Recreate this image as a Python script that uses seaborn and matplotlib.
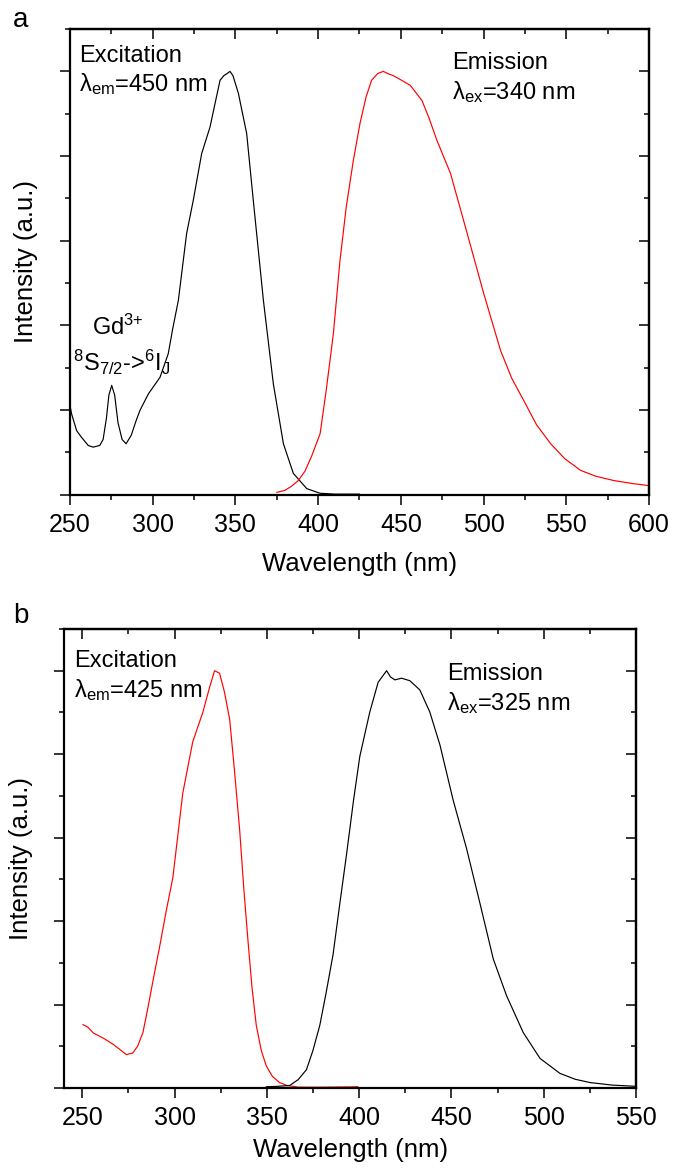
import seaborn as sns
import matplotlib.pyplot as plt
import numpy as np
import pandas as pd
from matplotlib.ticker import MultipleLocator, NullFormatter

# panel a: excitation (black, lambda_em = 450 nm)
a_exc_wl = [250, 251, 254, 257, 261, 264, 268, 270, 272, 273.5, 275.2, 277, 279, 281.5, 283.9,
            287, 290, 292.3, 297.4, 304.4, 309.4, 312, 315.5, 320.5, 324.5, 329.6, 334.6,
            338, 340.7, 343, 345, 346.7, 348.5, 351.8, 356.8, 360.8, 366.9, 372.9, 379,
            385, 393.1, 401.1, 410, 425]
a_exc_int = [0.21, 0.19, 0.151, 0.135, 0.116, 0.112, 0.116, 0.13, 0.18, 0.235, 0.258, 0.235, 0.17,
             0.13, 0.12, 0.14, 0.175, 0.199, 0.238, 0.277, 0.333, 0.39, 0.459, 0.617, 0.695, 0.806,
             0.868, 0.93, 0.979, 0.99, 0.995, 1.0, 0.99, 0.948, 0.853, 0.695, 0.459, 0.262, 0.12,
             0.05, 0.014, 0.003, 0.001, 0.001]

# panel a: emission (red, lambda_ex = 340 nm)
a_emi_wl = [374.9, 380, 384, 388, 392, 396, 401.2, 405, 409.2, 413.2, 417, 421.3, 425.3, 429,
            432.3, 436, 439.4, 442, 445.4, 450, 455.7, 462.8, 467, 471.8, 480, 490.1, 500.1,
            510.3, 517, 524.3, 532, 540.6, 549, 558.7, 568, 578.8, 590, 600]
a_emi_int = [0.005, 0.01, 0.02, 0.033, 0.055, 0.09, 0.144, 0.25, 0.38, 0.553, 0.68, 0.79, 0.877,
             0.94, 0.979, 0.995, 1.0, 0.995, 0.99, 0.98, 0.967, 0.931, 0.89, 0.837, 0.759, 0.617,
             0.475, 0.34, 0.275, 0.222, 0.165, 0.12, 0.085, 0.057, 0.043, 0.033, 0.026, 0.021]

# panel b: excitation (red, lambda_em = 425 nm)
b_exc_wl = [250.3, 253, 256, 259.4, 262, 264.8, 267, 270.2, 273.9, 277.4, 280, 282.9, 285.5,
            288.3, 292, 295.5, 299.1, 304.5, 309.9, 315.4, 319, 321.7, 324.4, 327, 329.9, 332.5,
            335.3, 337.5, 339.8, 342, 344.3, 347, 349.7, 353, 356.9, 361, 367.2, 380, 399.5]
b_exc_int = [0.152, 0.146, 0.132, 0.124, 0.118, 0.11, 0.104, 0.093, 0.08, 0.084, 0.1, 0.133, 0.19,
             0.256, 0.34, 0.424, 0.504, 0.707, 0.83, 0.901, 0.96, 1.0, 0.994, 0.95, 0.883, 0.76,
             0.618, 0.48, 0.353, 0.24, 0.15, 0.09, 0.053, 0.028, 0.013, 0.006, 0.002, 0.002, 0.003]

# panel b: emission (black, lambda_ex = 325 nm)
b_emi_wl = [349.7, 356, 362.4, 367, 371.5, 375, 378.7, 382, 385.9, 389.5, 393.2, 397, 400.4,
            405.8, 410.3, 414.9, 417, 419.4, 423, 427.5, 432.9, 438.3, 443.8, 451, 458.2,
            465.5, 472.7, 479.9, 488.9, 498, 508.8, 517, 525.1, 537, 550]
b_emi_int = [0.003, 0.004, 0.006, 0.02, 0.044, 0.09, 0.15, 0.225, 0.32, 0.44, 0.56, 0.69, 0.795,
             0.901, 0.972, 1.0, 0.985, 0.978, 0.982, 0.976, 0.954, 0.901, 0.822, 0.689, 0.574,
             0.442, 0.309, 0.221, 0.133, 0.071, 0.035, 0.021, 0.013, 0.007, 0.004]

sns.set_style('ticks')
plt.rcParams['font.family'] = ['Liberation Sans', 'DejaVu Sans']
plt.rcParams['mathtext.fontset'] = 'custom'
plt.rcParams['mathtext.rm'] = 'Liberation Sans'
plt.rcParams['mathtext.it'] = 'Liberation Sans'
for key in ['text.color', 'axes.labelcolor', 'xtick.color', 'ytick.color', 'axes.edgecolor']:
    plt.rcParams[key] = 'black'

fig = plt.figure(figsize=(6.81, 11.68), dpi=100)
ax_a = fig.add_axes([0.1028, 0.5766, 0.8502, 0.3985])
ax_b = fig.add_axes([0.0947, 0.0685, 0.8392, 0.393])


def style_axes(ax, xlim, xpad):
    ax.set_xlim(*xlim)
    ax.set_ylim(0, 1.1)
    for s in ax.spines.values():
        s.set_linewidth(1.6)
        s.set_visible(True)
    ax.xaxis.set_major_locator(MultipleLocator(50))
    ax.xaxis.set_minor_locator(MultipleLocator(25))
    ax.yaxis.set_major_locator(MultipleLocator(0.2))
    ax.yaxis.set_minor_locator(MultipleLocator(0.1))
    ax.yaxis.set_major_formatter(NullFormatter())
    ax.tick_params(which='major', direction='out', length=7, width=1.1, labelsize=18, pad=6)
    ax.tick_params(which='minor', direction='out', length=3.5, width=1.1)
    ax.set_xlabel('Wavelength (nm)', fontsize=18.5, labelpad=xpad)
    ax.set_ylabel('Intensity (a.u.)', fontsize=18.5, labelpad=10)
    # mirrored ticks pointing inward on top and right
    top = ax.secondary_xaxis('top')
    top.xaxis.set_major_locator(MultipleLocator(50))
    top.xaxis.set_minor_locator(MultipleLocator(25))
    top.tick_params(which='major', direction='in', length=7, width=1.1, labeltop=False)
    top.tick_params(which='minor', direction='in', length=3.5, width=1.1)
    top.spines['top'].set_linewidth(1.6)
    right = ax.secondary_yaxis('right')
    right.yaxis.set_major_locator(MultipleLocator(0.2))
    right.yaxis.set_minor_locator(MultipleLocator(0.1))
    right.tick_params(which='major', direction='in', length=7, width=1.1, labelright=False)
    right.tick_params(which='minor', direction='in', length=3.5, width=1.1)
    right.spines['right'].set_linewidth(1.6)


# panel a
sns.lineplot(x=a_exc_wl, y=a_exc_int, ax=ax_a, color='black', linewidth=0.85)
sns.lineplot(x=a_emi_wl, y=a_emi_int, ax=ax_a, color='#ff0000', linewidth=0.85)
style_axes(ax_a, (250, 600), 11)
ax_a.text(255.4, 1.022, 'Excitation', fontsize=17)
ax_a.text(255.4, 0.953, r'λ$_{\mathrm{em}}$=450 nm', fontsize=17)
ax_a.text(480.8, 1.006, 'Emission', fontsize=17)
ax_a.text(480.8, 0.935, r'λ$_{\mathrm{ex}}$=340 nm', fontsize=17)
ax_a.text(263.5, 0.378, r'Gd$^{3{+}}$', fontsize=17)
ax_a.text(251.6, 0.293, r'$^{8}$S$_{7/2}$->$^{6}$I$_{\mathrm{J}}$', fontsize=17)

# panel b
sns.lineplot(x=b_exc_wl, y=b_exc_int, ax=ax_b, color='#ff0000', linewidth=0.85)
sns.lineplot(x=b_emi_wl, y=b_emi_int, ax=ax_b, color='black', linewidth=0.85)
style_axes(ax_b, (240.4, 550), 6)
ax_b.text(245.5, 1.008, 'Excitation', fontsize=17)
ax_b.text(245.5, 0.937, r'λ$_{\mathrm{em}}$=425 nm', fontsize=17)
ax_b.text(447.6, 0.977, 'Emission', fontsize=17)
ax_b.text(447.6, 0.906, r'λ$_{\mathrm{ex}}$=325 nm', fontsize=17)

fig.text(0.019, 0.977, 'a', fontsize=20)
fig.text(0.019, 0.4666, 'b', fontsize=20)

plt.savefig('out.png', dpi=100)
